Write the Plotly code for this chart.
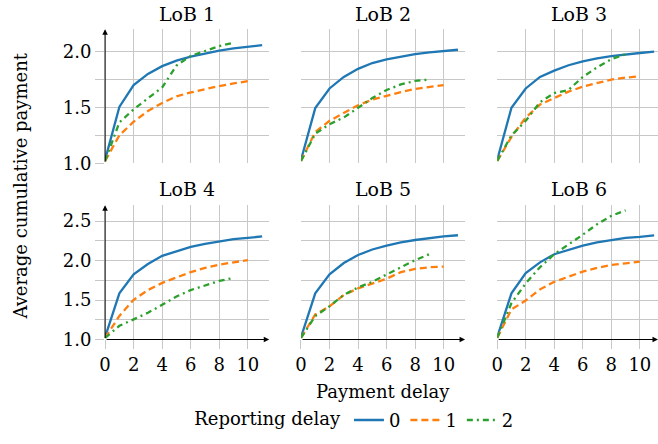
import plotly.graph_objects as go

# ---------------- data ----------------
delays_0 = [0, 1, 2, 3, 4, 5, 6, 7, 8, 9, 10, 11]
delays_1 = [0, 1, 2, 3, 4, 5, 6, 7, 8, 9, 10]
delays_2 = [0, 1, 2, 3, 4, 5, 6, 7, 8, 9]

lob_names = ["LoB 1", "LoB 2", "LoB 3", "LoB 4", "LoB 5", "LoB 6"]
reporting_labels = ["0", "1", "2"]

lob1_rd0 = [1.03, 1.505, 1.70, 1.80, 1.87, 1.92, 1.956, 1.985, 2.01, 2.03, 2.044, 2.058]
lob1_rd1 = [1.02, 1.25, 1.372, 1.468, 1.54, 1.60, 1.634, 1.666, 1.692, 1.715, 1.735]
lob1_rd2 = [1.02, 1.366, 1.483, 1.584, 1.68, 1.875, 1.962, 2.006, 2.05, 2.08]

lob2_rd0 = [1.03, 1.494, 1.67, 1.773, 1.846, 1.898, 1.93, 1.956, 1.977, 1.994, 2.006, 2.017]
lob2_rd1 = [1.02, 1.28, 1.38, 1.453, 1.52, 1.57, 1.605, 1.637, 1.666, 1.686, 1.70]
lob2_rd2 = [1.02, 1.265, 1.35, 1.41, 1.497, 1.584, 1.657, 1.706, 1.738, 1.75]

lob3_rd0 = [1.03, 1.497, 1.67, 1.773, 1.83, 1.878, 1.913, 1.94, 1.96, 1.977, 1.988, 2.0]
lob3_rd1 = [1.02, 1.235, 1.41, 1.526, 1.584, 1.642, 1.686, 1.72, 1.75, 1.767, 1.78]
lob3_rd2 = [1.02, 1.25, 1.38, 1.547, 1.628, 1.657, 1.773, 1.86, 1.933, 1.977]

lob4_rd0 = [1.03, 1.585, 1.824, 1.956, 2.059, 2.12, 2.174, 2.21, 2.244, 2.27, 2.286, 2.306]
lob4_rd1 = [1.02, 1.297, 1.503, 1.626, 1.717, 1.79, 1.853, 1.906, 1.948, 1.977, 2.005]
lob4_rd2 = [1.02, 1.173, 1.255, 1.338, 1.44, 1.544, 1.626, 1.688, 1.742, 1.78]

lob5_rd0 = [1.03, 1.585, 1.824, 1.968, 2.07, 2.14, 2.19, 2.23, 2.26, 2.286, 2.306, 2.32]
lob5_rd1 = [1.02, 1.317, 1.42, 1.564, 1.647, 1.71, 1.77, 1.853, 1.894, 1.915, 1.923]
lob5_rd2 = [1.02, 1.297, 1.42, 1.564, 1.66, 1.73, 1.824, 1.915, 2.005, 2.08]

lob6_rd0 = [1.03, 1.585, 1.84, 1.977, 2.08, 2.14, 2.19, 2.23, 2.26, 2.286, 2.30, 2.318]
lob6_rd1 = [1.02, 1.38, 1.494, 1.635, 1.73, 1.80, 1.86, 1.906, 1.944, 1.964, 1.985]
lob6_rd2 = [1.02, 1.46, 1.71, 1.915, 2.08, 2.20, 2.327, 2.46, 2.566, 2.636]

x_ticks = [0, 2, 4, 6, 8, 10]
y_ticks_top = [1.0, 1.5, 2.0]
y_ticks_bottom = [1.0, 1.5, 2.0, 2.5]

# ---------------- styling ----------------
W, H = 658, 444
FONT = "DejaVu Serif"
FS = 18
FS_TITLE = 19
GRID = "#c8c8c8"
colors = ["#1f77b4", "#ff7f0e", "#2ca02c"]
dashes = ["solid", "7px,4px", "6px,4px,2px,4px"]

series = [
    (lob1_rd0, lob1_rd1, lob1_rd2),
    (lob2_rd0, lob2_rd1, lob2_rd2),
    (lob3_rd0, lob3_rd1, lob3_rd2),
    (lob4_rd0, lob4_rd1, lob4_rd2),
    (lob5_rd0, lob5_rd1, lob5_rd2),
    (lob6_rd0, lob6_rd1, lob6_rd2),
]
xs = [delays_0, delays_1, delays_2]

col_dom = [(100 / W, 265.7 / W), (297.7 / W, 463.3 / W), (495.7 / W, 1.0)]
col_rng = [(0, 11.5), (0, 11.5), (0, (W - 495.7) / 14.4)]
row_dom = [(1 - 167 / H, 1 - 30 / H), (1 - 347.3 / H, 1 - 210 / H)]
row_rng = [(1.0, 2.2), (1.0, 2.7)]

fig = go.Figure()
layout = {}
annotations = []

for i in range(6):
    r, c = divmod(i, 3)
    n = i + 1
    xa = "x" if n == 1 else f"x{n}"
    ya = "y" if n == 1 else f"y{n}"
    for k in range(3):
        fig.add_trace(go.Scatter(
            x=xs[k], y=series[i][k], mode="lines",
            line=dict(color=colors[k], width=2.3, dash=dashes[k]),
            name=reporting_labels[k], showlegend=(i == 0),
            xaxis=xa, yaxis=ya, cliponaxis=False,
        ))
    show_x_labels = (r == 1)
    show_y_labels = (c == 0)
    layout[f"xaxis{n}"] = dict(
        domain=list(col_dom[c]), range=list(col_rng[c]), anchor=ya,
        tickvals=x_ticks, ticktext=[str(v) for v in x_ticks] if show_x_labels else ["" for _ in x_ticks],
        showticklabels=show_x_labels,
        ticks="outside" if show_x_labels else "", ticklen=9, tickcolor=GRID, tickwidth=1,
        showgrid=True, gridcolor=GRID, gridwidth=1, zeroline=False, showline=False,
        tickfont=dict(family=FONT, size=FS, color="black"),
    )
    yt = y_ticks_top if r == 0 else y_ticks_bottom
    layout[f"yaxis{n}"] = dict(
        domain=list(row_dom[r]), range=list(row_rng[r]), anchor=xa,
        tickvals=yt, ticktext=[f"{v:.1f}" for v in yt] if show_y_labels else ["" for _ in yt],
        showticklabels=show_y_labels,
        ticks="outside" if show_y_labels else "", ticklen=9, tickcolor=GRID, tickwidth=1,
        showgrid=True, gridcolor=GRID, gridwidth=1, zeroline=False, showline=False,
        minor=dict(dtick=0.25, tick0=1.0, showgrid=True, gridcolor=GRID, gridwidth=1,
                   ticks="outside" if show_y_labels else "", ticklen=9, tickcolor=GRID),
        tickfont=dict(family=FONT, size=FS, color="black"),
    )
    # subplot title
    cx = (col_dom[c][0] + (col_dom[c][0] + 165.7 / W)) / 2
    ty = 1 - (14 / H if r == 0 else 193 / H)
    annotations.append(dict(text=lob_names[i], x=cx, y=ty, xref="paper", yref="paper",
                            showarrow=False, xanchor="center", yanchor="middle",
                            font=dict(family=FONT, size=FS_TITLE, color="black")))
    # axis arrows
    if c == 0:
        annotations.append(dict(x=0, y=row_rng[r][1], ax=0, ay=row_rng[r][0],
                                xref=xa, yref=ya, axref=xa, ayref=ya, text="",
                                showarrow=True, arrowhead=2, arrowsize=1, arrowwidth=1.1,
                                arrowcolor="black", standoff=0, startstandoff=0))
    if r == 1:
        annotations.append(dict(x=col_rng[c][1], y=1.0, ax=0, ay=1.0,
                                xref=xa, yref=ya, axref=xa, ayref=ya, text="",
                                showarrow=True, arrowhead=2, arrowsize=1, arrowwidth=1.1,
                                arrowcolor="black", standoff=0, startstandoff=0))

annotations.append(dict(text="Average cumulative payment", x=15 / W, y=1 - 190 / H,
                        xref="paper", yref="paper", showarrow=False, textangle=-90,
                        xanchor="center", yanchor="middle",
                        font=dict(family=FONT, size=FS, color="black")))
annotations.append(dict(text="Payment delay", x=380 / W, y=1 - 401 / H,
                        xref="paper", yref="paper", showarrow=False,
                        xanchor="center", yanchor="middle",
                        font=dict(family=FONT, size=FS, color="black")))

fig.update_layout(
    width=W, height=H, autosize=False,
    margin=dict(l=0, r=0, t=0, b=0),
    paper_bgcolor="white", plot_bgcolor="white",
    font=dict(family=FONT, size=FS, color="black"),
    annotations=annotations,
    legend=dict(orientation="h", x=353 / W, xanchor="center", y=1 - 430 / H, yanchor="middle",
                title=dict(text="Reporting delay", side="left", font=dict(family=FONT, size=FS)),
                font=dict(family=FONT, size=FS, color="black"),
                bgcolor="rgba(0,0,0,0)", itemwidth=30, tracegroupgap=0),
    **layout,
)

fig.write_html("out.html")
